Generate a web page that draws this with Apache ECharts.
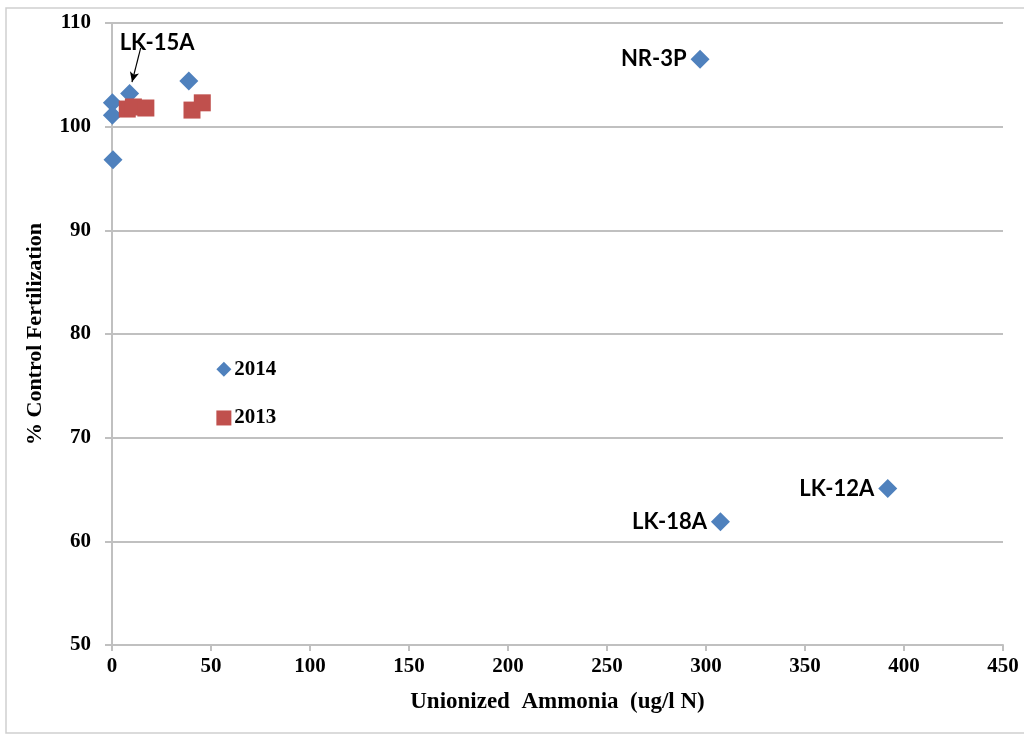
<!DOCTYPE html>
<html>
<head>
<meta charset="utf-8">
<title>Fertilization vs Unionized Ammonia</title>
<script src="https://cdn.jsdelivr.net/npm/echarts@6/dist/echarts.min.js"></script>
<style>
  html, body { margin: 0; padding: 0; background: #fff; overflow: hidden; }
  #chart { width: 1024px; height: 735px; }
</style>
</head>
<body>
<div id="chart"></div>
<script>
// 2014 samples: unionized ammonia (ug/l N) and % control fertilization
const ammonia2014 = [0.2, 0.2, 0.5, 8.9, 38.8, 297.0, 307.3, 391.8];
const fert2014    = [102.3, 101.1, 96.8, 103.2, 104.4, 106.5, 61.9, 65.1];
const names2014   = ['', '', '', 'LK-15A', '', 'NR-3P', 'LK-18A', 'LK-12A'];

// 2013 samples
const ammonia2013 = [7.7, 10.8, 17.1, 40.4, 45.6];
const fert2013    = [101.7, 101.9, 101.8, 101.6, 102.3];

// Key markers drawn inside the plot
const keyYears = ['2014', '2013'];
const keyX     = [56.5, 56.5];
const keyY     = [76.6, 71.9];

// LK-15A callout: text anchor and arrow from text to point
const calloutText  = [22.8, 108.1];
const calloutArrow = [[14.5, 107.6], [10.1, 104.3]];

// Axis ticks
const xTicks = { min: 0, max: 450, interval: 50 };
const yTicks = { min: 50, max: 110, interval: 10 };

const BLUE = '#4F81BD';
const RED = '#C0504D';
const GRID = '#c0c0c0';
const serif = '"Liberation Serif", "Times New Roman", serif';
const sans = 'Lato, "Noto Sans", sans-serif';

const siteLabel = {
  show: true,
  position: 'left',
  distance: 4,
  formatter: p => p.data.name,
  color: '#000',
  fontFamily: sans,
  fontWeight: 'bold',
  fontSize: 22
};

const data2014 = ammonia2014.map((x, i) => {
  const item = { value: [x, fert2014[i]], name: names2014[i] };
  if (names2014[i] && names2014[i] !== 'LK-15A') item.label = siteLabel;
  return item;
});
const data2013 = ammonia2013.map((x, i) => ({ value: [x, fert2013[i]] }));

const keyLabel = {
  show: true,
  position: 'right',
  distance: 3,
  formatter: p => p.data.name,
  color: '#000',
  fontFamily: serif,
  fontWeight: 'bold',
  fontSize: 21
};

const chart = echarts.init(document.getElementById('chart'));
chart.setOption({
  animation: false,
  backgroundColor: '#fff',
  graphic: [{
    type: 'polyline',
    shape: { points: [[1030, 8], [6, 8], [6, 733], [1030, 733]] },
    style: { fill: null, stroke: '#cfcfcf', lineWidth: 1.5 },
    silent: true,
    z: -1
  }],
  grid: { left: 112, right: 21, top: 23, bottom: 90 },
  xAxis: {
    type: 'value',
    min: xTicks.min, max: xTicks.max, interval: xTicks.interval,
    name: 'Unionized  Ammonia  (ug/l N)',
    nameLocation: 'middle',
    nameGap: 46,
    nameTextStyle: { fontFamily: serif, fontWeight: 'bold', fontSize: 23, color: '#000' },
    axisLine: { show: true, lineStyle: { color: GRID, width: 2 } },
    axisTick: { show: true, length: 6, lineStyle: { color: GRID, width: 2 } },
    axisLabel: { margin: 11, fontFamily: serif, fontWeight: 'bold', fontSize: 21, color: '#000' },
    splitLine: { show: false }
  },
  yAxis: {
    type: 'value',
    min: yTicks.min, max: yTicks.max, interval: yTicks.interval,
    name: '% Control Fertilization',
    nameLocation: 'middle',
    nameGap: 66,
    nameRotate: 90,
    nameTextStyle: { fontFamily: serif, fontWeight: 'bold', fontSize: 22, color: '#000' },
    axisLine: { show: true, lineStyle: { color: GRID, width: 2 } },
    axisTick: { show: true, length: 7, lineStyle: { color: GRID, width: 2 } },
    axisLabel: { margin: 21, fontFamily: serif, fontWeight: 'bold', fontSize: 21, color: '#000' },
    splitLine: { show: true, lineStyle: { color: GRID, width: 2 } }
  },
  series: [
    {
      name: '2013',
      type: 'scatter',
      symbol: 'rect',
      symbolSize: 17,
      itemStyle: { color: RED, opacity: 1 },
      data: data2013,
      z: 3
    },
    {
      name: '2014',
      type: 'scatter',
      symbol: 'diamond',
      symbolSize: 19,
      itemStyle: { color: BLUE, opacity: 1 },
      data: data2014,
      z: 2,
      markLine: {
        silent: true,
        symbol: ['none', 'arrow'],
        symbolSize: [7, 10],
        lineStyle: { color: '#000', width: 1.2, type: 'solid' },
        label: { show: false },
        data: [[{ coord: calloutArrow[0] }, { coord: calloutArrow[1] }]]
      },
      markPoint: {
        silent: true,
        symbol: 'circle',
        symbolSize: 0,
        label: {
          show: true,
          position: 'inside',
          formatter: 'LK-15A',
          color: '#000',
          fontFamily: sans,
          fontWeight: 'bold',
          fontSize: 22
        },
        data: [{ coord: calloutText }]
      }
    },
    {
      name: 'key2014',
      type: 'scatter',
      symbol: 'diamond',
      symbolSize: 15,
      itemStyle: { color: BLUE, opacity: 1 },
      label: keyLabel,
      data: [{ value: [keyX[0], keyY[0]], name: keyYears[0] }]
    },
    {
      name: 'key2013',
      type: 'scatter',
      symbol: 'rect',
      symbolSize: 15,
      itemStyle: { color: RED, opacity: 1 },
      label: keyLabel,
      data: [{ value: [keyX[1], keyY[1]], name: keyYears[1] }]
    }
  ]
});
</script>
</body>
</html>
